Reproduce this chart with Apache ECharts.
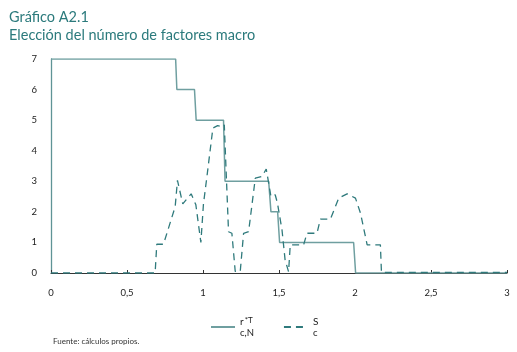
<!DOCTYPE html>
<html>
<head>
<meta charset="utf-8">
<script src="https://cdn.jsdelivr.net/npm/echarts@6/dist/echarts.min.js"></script>
<style>
  html, body { margin: 0; padding: 0; background: #fff; }
  #chart { width: 517px; height: 352px; }
</style>
</head>
<body>
<div id="chart"></div>
<script>
// r*T c,N (linea continua, escalones)
const rData = [
  [0, 7], [0.82, 7], [0.828, 6], [0.944, 6], [0.955, 5], [1.135, 5], [1.145, 3],
  [1.432, 3], [1.447, 2], [1.491, 2], [1.504, 1], [1.991, 1], [2.004, 0], [3, 0]
];
// S c (linea discontinua)
const sData = [
  [0, 0], [0.685, 0], [0.696, 0.94], [0.74, 0.94], [0.817, 2.17], [0.832, 3.03],
  [0.867, 2.26], [0.922, 2.59], [0.953, 2.23], [0.986, 1.0], [1.003, 2.26],
  [1.026, 3.16], [1.065, 4.74], [1.096, 4.82], [1.135, 4.78], [1.14, 4.85],
  [1.168, 1.35], [1.19, 1.3], [1.212, 0.05], [1.245, 0.05], [1.267, 1.3],
  [1.3, 1.35], [1.344, 3.1], [1.388, 3.16], [1.416, 3.4], [1.43, 3.0],
  [1.447, 2.5], [1.475, 2.56], [1.49, 2.28], [1.52, 1.4], [1.54, 0.43],
  [1.563, 0.04], [1.574, 0.92], [1.662, 0.92], [1.684, 1.3], [1.75, 1.3],
  [1.772, 1.76], [1.838, 1.76], [1.893, 2.45], [1.948, 2.59], [2.003, 2.45],
  [2.036, 1.96], [2.08, 0.92], [2.167, 0.92], [2.174, 0.02], [3, 0.02]
];
const xTicks = ['0', '0,5', '1', '1,5', '2', '2,5', '3'];

const chart = echarts.init(document.getElementById('chart'));
chart.setOption({
  animation: false,
  textStyle: { fontFamily: 'Lato' },
  title: [
    {
      text: 'Gráfico A2.1\nElección del número de factores macro',
      left: 4, top: 3,
      textStyle: { color: '#2b7a7c', fontSize: 14.5, fontWeight: 'normal', lineHeight: 18, fontFamily: 'Lato' }
    },
    {
      text: 'Fuente: cálculos propios.',
      left: 48, top: 332,
      textStyle: { color: '#333', fontSize: 8, fontWeight: 'normal', fontFamily: 'Lato' }
    }
  ],
  grid: { left: 51, right: 10, top: 59, bottom: 79 },
  legend: {
    left: 205, top: 311,
    itemWidth: 24, itemHeight: 10, itemGap: 29,
    data: ['r', 's'],
    itemStyle: { opacity: 0 },
    formatter: function (name) {
      return name === 'r' ? '{b|r}{sup|*T}\n{sub|c,N}' : '{b|S}\n{sub|c}';
    },
    textStyle: {
      color: '#222',
      rich: {
        b: { fontSize: 10, lineHeight: 11, verticalAlign: 'bottom' },
        sup: { fontSize: 8, lineHeight: 11, verticalAlign: 'top', padding: [0, 0, 4, 1] },
        sub: { fontSize: 9.5, lineHeight: 11 }
      }
    }
  },
  xAxis: {
    type: 'value', min: 0, max: 3, interval: 0.5,
    axisLine: { lineStyle: { color: '#333', width: 1 } },
    axisTick: { inside: true, length: 3, lineStyle: { color: '#333' } },
    splitLine: { show: false },
    axisLabel: {
      color: '#222', fontSize: 9.5, margin: 15,
      formatter: function (v) { return xTicks[Math.round(v * 2)]; }
    }
  },
  yAxis: {
    type: 'value', min: 0, max: 7, interval: 1,
    axisLine: { show: true, lineStyle: { color: '#5f9496', width: 1.3 } },
    axisTick: { show: false },
    splitLine: { show: false },
    axisLabel: { color: '#222', fontSize: 9.5, margin: 14 }
  },
  series: [
    {
      name: 'r', type: 'line', data: rData, symbol: 'none',
      lineStyle: { color: '#6f9fa0', width: 1.5 },
      itemStyle: { color: '#6f9fa0' }
    },
    {
      name: 's', type: 'line', data: sData, symbol: 'none',
      lineStyle: { color: '#2f7a7c', width: 1.3, type: [7, 5] },
      itemStyle: { color: '#2f7a7c' }
    }
  ]
});
</script>
</body>
</html>
